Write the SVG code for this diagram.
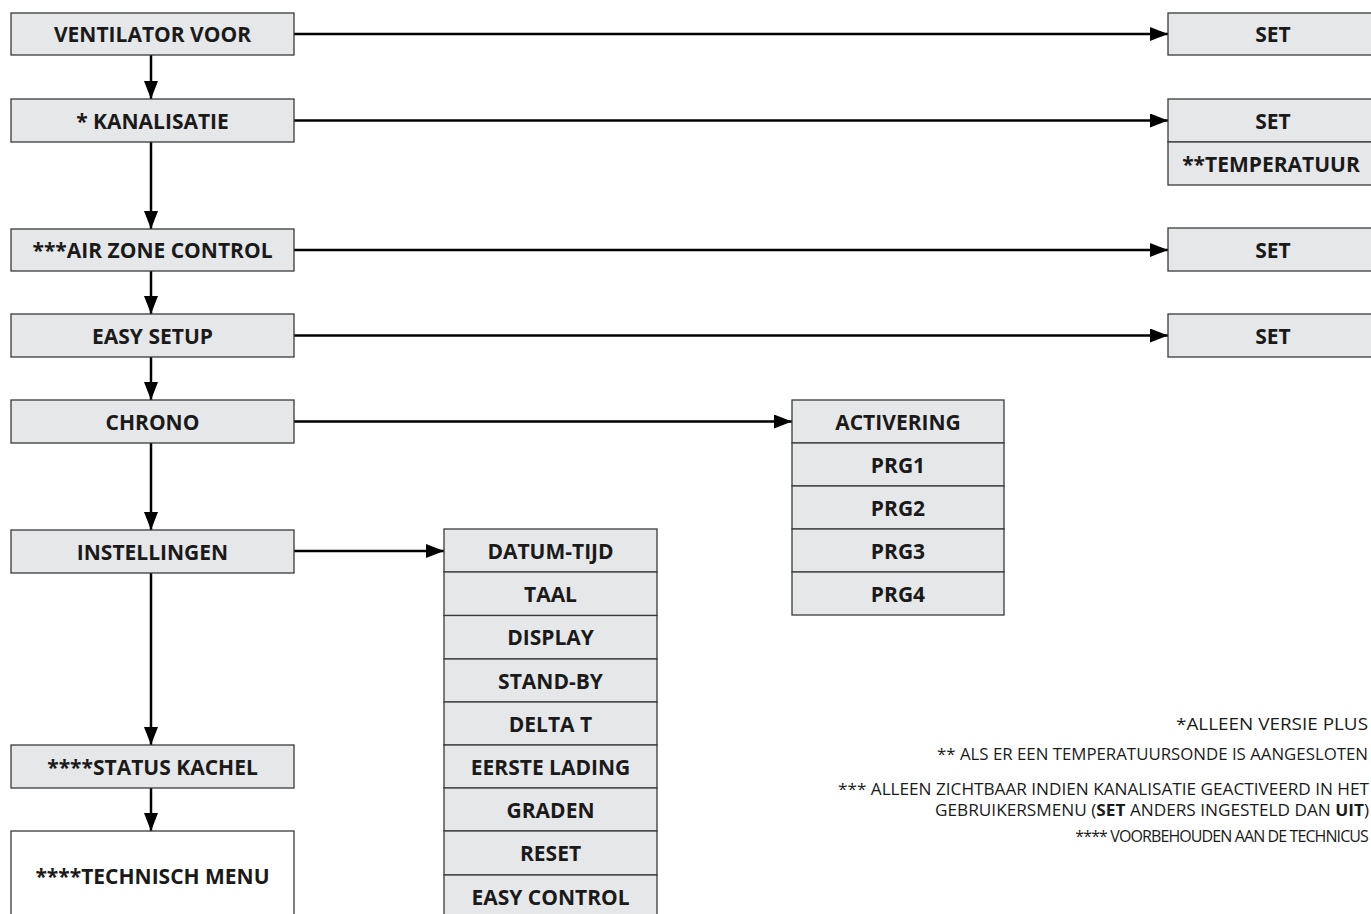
<svg xmlns="http://www.w3.org/2000/svg" width="1371" height="914" viewBox="0 0 1371 914">
<defs>
<style>
.box{fill:#e6e7e8;stroke:#3a3a3a;stroke-width:1.3}
.wbox{fill:#ffffff;stroke:#3a3a3a;stroke-width:1.3}
.lbl{font-family:"Open Sans","Noto Sans","Liberation Sans",sans-serif;font-weight:700;font-size:21px;fill:#1a1a1a;text-anchor:middle;dominant-baseline:central}
.note{font-family:"Open Sans","Noto Sans","Liberation Sans",sans-serif;font-weight:400;font-size:16px;fill:#1a1a1a;text-anchor:end}
.conn{stroke:#000;stroke-width:2.5;fill:none;marker-end:url(#ah)}
</style>
<marker id="ah" markerUnits="userSpaceOnUse" markerWidth="20" markerHeight="16" refX="18" refY="7" orient="auto">
<path d="M0,0 L18,7 L0,14 Z" fill="#000"/>
</marker>
</defs>
<rect width="1371" height="914" fill="#ffffff"/>

<g id="connectors">
<line class="conn" x1="294" y1="34" x2="1168" y2="34"/>
<line class="conn" x1="294" y1="120.5" x2="1168" y2="120.5"/>
<line class="conn" x1="294" y1="250" x2="1168" y2="250"/>
<line class="conn" x1="294" y1="335.5" x2="1168" y2="335.5"/>
<line class="conn" x1="294" y1="421.5" x2="792" y2="421.5"/>
<line class="conn" x1="294" y1="551" x2="444" y2="551"/>
<line class="conn" x1="151" y1="55" x2="151" y2="99"/>
<line class="conn" x1="151" y1="142" x2="151" y2="229"/>
<line class="conn" x1="151" y1="271" x2="151" y2="314"/>
<line class="conn" x1="151" y1="357" x2="151" y2="400"/>
<line class="conn" x1="151" y1="443" x2="151" y2="530"/>
<line class="conn" x1="151" y1="573" x2="151" y2="745"/>
<line class="conn" x1="151" y1="788" x2="151" y2="831"/>
</g>

<g id="ventilator-voor"><rect class="box" x="11" y="13" width="283" height="42"/><text class="lbl" x="152.5" y="34">VENTILATOR VOOR</text></g>
<g id="kanalisatie"><rect class="box" x="11" y="99" width="283" height="43"/><text class="lbl" x="152.5" y="120.5">* KANALISATIE</text></g>
<g id="air-zone-control"><rect class="box" x="11" y="229" width="283" height="42"/><text class="lbl" x="152.5" y="250">***AIR ZONE CONTROL</text></g>
<g id="easy-setup"><rect class="box" x="11" y="314" width="283" height="43"/><text class="lbl" x="152.5" y="335.5">EASY SETUP</text></g>
<g id="chrono"><rect class="box" x="11" y="400" width="283" height="43"/><text class="lbl" x="152.5" y="421.5">CHRONO</text></g>
<g id="instellingen"><rect class="box" x="11" y="530" width="283" height="43"/><text class="lbl" x="152.5" y="551.5">INSTELLINGEN</text></g>
<g id="status-kachel"><rect class="box" x="11" y="745" width="283" height="43"/><text class="lbl" x="152.5" y="766.5">****STATUS KACHEL</text></g>
<g id="technisch-menu"><rect class="wbox" x="11" y="831" width="283" height="100"/><text class="lbl" x="152.5" y="876">****TECHNISCH MENU</text></g>

<g id="set-ventilator"><rect class="box" x="1168" y="13" width="210" height="42"/><text class="lbl" x="1273" y="34">SET</text></g>
<g id="set-kanalisatie"><rect class="box" x="1168" y="99" width="210" height="43"/><text class="lbl" x="1273" y="120.5">SET</text><rect class="box" x="1168" y="142" width="210" height="43"/><text class="lbl" x="1271" y="163.5">**TEMPERATUUR</text></g>
<g id="set-airzone"><rect class="box" x="1168" y="228" width="210" height="43"/><text class="lbl" x="1273" y="249.5">SET</text></g>
<g id="set-easysetup"><rect class="box" x="1168" y="314" width="210" height="43"/><text class="lbl" x="1273" y="335.5">SET</text></g>

<g id="chrono-menu">
<rect class="box" x="792" y="400" width="212" height="43"/><text class="lbl" x="898" y="421.5">ACTIVERING</text>
<rect class="box" x="792" y="443" width="212" height="43"/><text class="lbl" x="898" y="464.5">PRG1</text>
<rect class="box" x="792" y="486" width="212" height="43"/><text class="lbl" x="898" y="507.5">PRG2</text>
<rect class="box" x="792" y="529" width="212" height="43"/><text class="lbl" x="898" y="550.5">PRG3</text>
<rect class="box" x="792" y="572" width="212" height="43"/><text class="lbl" x="898" y="593.5">PRG4</text>
</g>

<g id="instellingen-menu">
<rect class="box" x="444" y="529" width="213" height="43"/><text class="lbl" x="550.5" y="550.5">DATUM-TIJD</text>
<rect class="box" x="444" y="572" width="213" height="43.5"/><text class="lbl" x="550.5" y="594">TAAL</text>
<rect class="box" x="444" y="615.5" width="213" height="43.5"/><text class="lbl" x="550.5" y="637">DISPLAY</text>
<rect class="box" x="444" y="659" width="213" height="43"/><text class="lbl" x="550.5" y="680.5">STAND-BY</text>
<rect class="box" x="444" y="702" width="213" height="43"/><text class="lbl" x="550.5" y="723.5">DELTA T</text>
<rect class="box" x="444" y="745" width="213" height="43"/><text class="lbl" x="550.5" y="766.5">EERSTE LADING</text>
<rect class="box" x="444" y="788" width="213" height="43"/><text class="lbl" x="550.5" y="809.5">GRADEN</text>
<rect class="box" x="444" y="831" width="213" height="44"/><text class="lbl" x="550.5" y="853">RESET</text>
<rect class="box" x="444" y="875" width="213" height="43"/><text class="lbl" x="550.5" y="896.5">EASY CONTROL</text>
</g>

<g id="footnotes">
<text class="note" x="1368" y="730" textLength="192" lengthAdjust="spacingAndGlyphs">*ALLEEN VERSIE PLUS</text>
<text class="note" x="1368" y="760" textLength="431" lengthAdjust="spacingAndGlyphs">** ALS ER EEN TEMPERATUURSONDE IS AANGESLOTEN</text>
<text class="note" x="1369" y="795" textLength="531" lengthAdjust="spacingAndGlyphs">*** ALLEEN ZICHTBAAR INDIEN KANALISATIE GEACTIVEERD IN HET</text>
<text class="note" x="1369" y="816" textLength="434" lengthAdjust="spacingAndGlyphs">GEBRUIKERSMENU (<tspan font-weight="700">SET</tspan> ANDERS INGESTELD DAN <tspan font-weight="700">UIT</tspan>)</text>
<text class="note" x="1368" y="842" letter-spacing="-0.9">**** VOORBEHOUDEN AAN DE TECHNICUS</text>
</g>
</svg>
